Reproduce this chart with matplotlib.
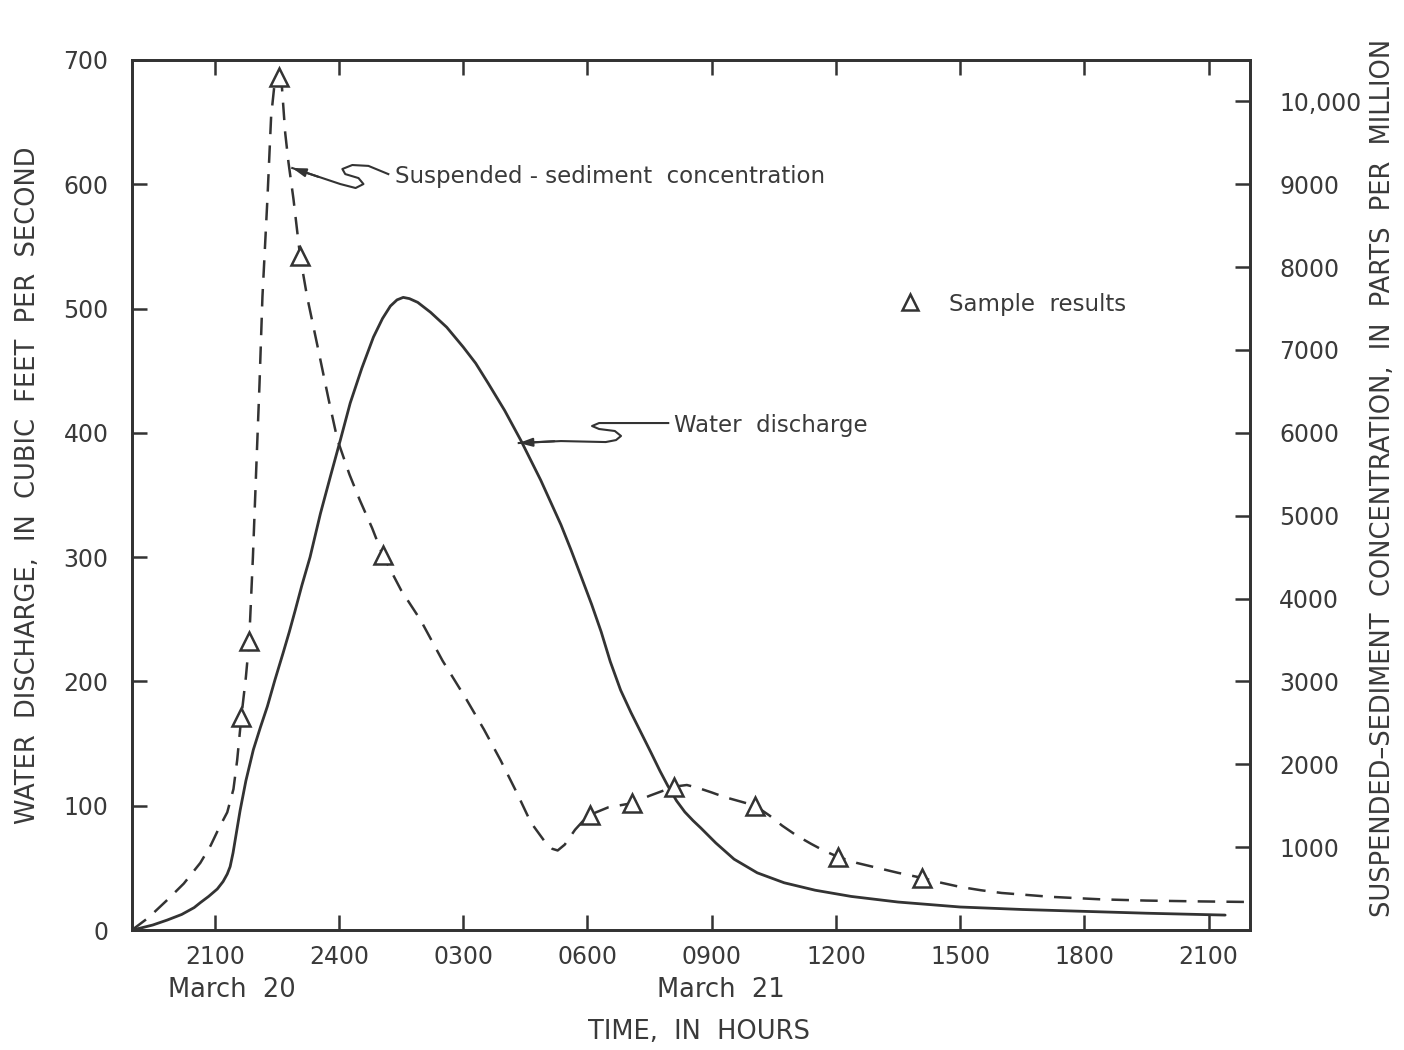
import matplotlib
matplotlib.use("Agg")
import matplotlib.pyplot as plt

# Time axis in hours counted from 0000 on March 20 (so 0300 March 21 = 27)
tick_hours = [21, 24, 27, 30, 33, 36, 39, 42, 45]
tick_labels = ["2100", "2400", "0300", "0600", "0900", "1200", "1500", "1800", "2100"]

# Water discharge hydrograph (cubic feet per second)
q_hours = [19.0, 19.2, 19.5, 19.85, 20.2, 20.5, 20.65, 20.85, 21.06, 21.2, 21.3, 21.37,
           21.44, 21.52, 21.61, 21.75, 21.93, 22.1, 22.27, 22.45, 22.65, 22.8, 22.94,
           23.1, 23.3, 23.55, 23.8, 24.03, 24.27, 24.55, 24.83, 25.05, 25.24, 25.4,
           25.55, 25.7, 25.9, 26.21, 26.6, 27.0, 27.3, 27.6, 28.0, 28.39, 28.87, 29.36,
           29.6, 29.84, 30.1, 30.33, 30.55, 30.8, 31.05, 31.29, 31.53, 31.75, 31.94,
           32.15, 32.35, 32.55, 32.74, 33.1, 33.54, 34.1, 34.75, 35.5, 36.37, 37.5,
           39.0, 40.5, 42.0, 43.5, 45.4]
q_cfs = [0, 1.5, 4, 8, 12.5, 18, 22, 27, 33, 39, 45, 51,
         62, 78, 96, 120, 145, 163, 180, 201, 223, 240, 257,
         277, 300, 335, 366, 394, 424, 452, 477, 492, 502, 507,
         509, 508, 505, 497, 485, 469, 456, 440, 418, 394, 362, 326,
         306, 285, 262, 240, 216, 193, 175, 159, 143, 128, 116,
         104, 95, 88, 82, 70, 57, 46, 38, 32, 27, 22.5,
         18.5, 16.5, 15, 13.5, 12]

# Suspended-sediment concentration curve (parts per million)
c_hours = [19.0, 19.4, 19.85, 20.25, 20.65, 20.9, 21.1, 21.3, 21.45, 21.54, 21.64, 21.75,
           21.83, 21.92, 22.0, 22.08, 22.15, 22.27, 22.36, 22.45, 22.56, 22.62, 22.7,
           22.78, 22.9, 23.06, 23.23, 23.5, 23.75, 23.96, 24.25, 24.5, 24.8, 25.05,
           25.5, 25.97, 26.5, 27.08, 27.5, 27.9, 28.3, 28.63, 28.95, 29.15, 29.28,
           29.45, 29.7, 29.9, 30.06, 30.5, 31.07, 31.5, 32.09, 32.4, 32.67, 33.0,
           33.3, 33.7, 34.05, 34.4, 34.7, 35.05, 35.4, 35.7, 36.06, 36.5, 37.0, 37.5,
           38.07, 38.5, 39.0, 39.5, 40.0, 41.2, 42.4, 43.5, 44.8, 46.0]
c_ppm = [0, 150, 362, 560, 810, 1020, 1230, 1420, 1700, 2050, 2570, 3050,
         3490, 4500, 5560, 6600, 7640, 8820, 9820, 10250, 10300, 10180, 9620,
         9260, 8820, 8130, 7640, 7000, 6400, 5920, 5500, 5190, 4850, 4530,
         4100, 3740, 3250, 2780, 2420, 2050, 1650, 1300, 1080, 980, 960,
         1030, 1210, 1320, 1390, 1480, 1530, 1620, 1730, 1750, 1715, 1660,
         1606, 1550, 1500, 1380, 1260, 1140, 1040, 960, 880, 810, 750, 690,
         630, 575, 520, 480, 447, 400, 370, 355, 345, 338]

# Laboratory sample results (parts per million)
s_hours = [21.64, 21.83, 22.56, 23.06, 25.05, 30.06, 31.07, 32.09, 34.05, 36.06, 38.07]
s_ppm = [2570, 3490, 10300, 8130, 4530, 1390, 1530, 1730, 1500, 880, 630]

INK = "#333333"
TXT = "#3a3a3a"

fig = plt.figure(figsize=(14.04, 10.5), dpi=100)
ax = fig.add_axes([132 / 1404, 120 / 1050, 1118 / 1404, 870 / 1050])
ax2 = ax.twinx()

ax.set_xlim(19, 46)
ax.set_ylim(0, 700)
ax2.set_ylim(0, 10500)

ax.plot(q_hours, q_cfs, color=INK, lw=2.0, solid_capstyle="round",
        solid_joinstyle="round", zorder=3)
ax2.plot(c_hours, c_ppm, color=INK, lw=1.8, dashes=(7, 4.5), zorder=3)
ax2.plot(s_hours, s_ppm, linestyle="none", marker="^", ms=13, mfc="white",
         mec=INK, mew=1.8, zorder=4)

# Axes frame and ticks
for a in (ax, ax2):
    for sp in a.spines.values():
        sp.set_color(INK)
        sp.set_linewidth(2.0)

ax.set_xticks(tick_hours)
ax.set_xticklabels(tick_labels)
ax.set_yticks([0, 100, 200, 300, 400, 500, 600, 700])
ax.tick_params(axis="x", direction="in", length=11, width=1.8, color=INK,
               labelsize=17, labelcolor=TXT, pad=11, top=True)
ax.tick_params(axis="y", direction="in", length=11, width=1.8, color=INK,
               labelsize=17, labelcolor=TXT, pad=17, right=False)

ax2.set_yticks([1000, 2000, 3000, 4000, 5000, 6000, 7000, 8000, 9000, 10000])
ax2.set_yticklabels(["1000", "2000", "3000", "4000", "5000", "6000", "7000",
                     "8000", "9000", "10,000"])
ax2.tick_params(axis="y", direction="in", length=11, width=1.8, color=INK,
                labelsize=17, labelcolor=TXT, pad=21)

# Axis titles
fig.text(28 / 1404, 1 - 485 / 1050, "WATER  DISCHARGE,  IN  CUBIC  FEET  PER  SECOND",
         rotation=90, ha="center", va="center", fontsize=18.5, color=TXT)
fig.text(1383 / 1404, 1 - 478 / 1050,
         "SUSPENDED\u2013SEDIMENT  CONCENTRATION,  IN  PARTS  PER  MILLION",
         rotation=90, ha="center", va="center", fontsize=18.5, color=TXT)
fig.text(699 / 1404, 1 - 1032 / 1050, "TIME,  IN  HOURS", ha="center", va="center",
         fontsize=18.5, color=TXT)
fig.text(232 / 1404, 1 - 990 / 1050, "March  20", ha="center", va="center",
         fontsize=18.5, color=TXT)
fig.text(721 / 1404, 1 - 990 / 1050, "March  21", ha="center", va="center",
         fontsize=18.5, color=TXT)

# Curve labels with squiggle leaders
sed_lead_x = [22.87, 24.03, 24.40, 24.59, 24.47, 24.15, 24.08, 24.32, 24.71, 25.19]
sed_lead_y = [613.1, 600.2, 597.0, 600.2, 605.0, 608.2, 612.3, 615.5, 614.8, 608.2]
ax.plot(sed_lead_x, sed_lead_y, color=INK, lw=1.5, zorder=5,
        solid_joinstyle="round")
ax.annotate("", xy=(sed_lead_x[0], sed_lead_y[0]), xytext=(23.5, 606.0),
            arrowprops=dict(arrowstyle="-|>,head_length=0.8,head_width=0.25",
                            color=INK, lw=1.5, shrinkA=0, shrinkB=0), zorder=5)
ax.text(25.36, 606.6, "Suspended - sediment  concentration", ha="left", va="center",
        fontsize=16.5, color=TXT)

wat_lead_x = [28.34, 29.36, 30.44, 30.69, 30.81, 30.66, 30.28, 30.11, 30.28, 31.95]
wat_lead_y = [391.8, 393.4, 392.6, 394.2, 397.5, 401.5, 403.1, 405.5, 407.9, 407.9]
ax.plot(wat_lead_x, wat_lead_y, color=INK, lw=1.5, zorder=5,
        solid_joinstyle="round")
ax.annotate("", xy=(wat_lead_x[0], wat_lead_y[0]), xytext=(29.2, 393.3),
            arrowprops=dict(arrowstyle="-|>,head_length=0.8,head_width=0.25",
                            color=INK, lw=1.5, shrinkA=0, shrinkB=0), zorder=5)
ax.text(32.09, 406.3, "Water  discharge", ha="left", va="center",
        fontsize=16.5, color=TXT)

# Symbol key
ax.plot([37.80], [505.3], linestyle="none", marker="^", ms=12, mfc="white",
        mec=INK, mew=1.8)
ax.text(38.74, 503.6, "Sample  results", ha="left", va="center",
        fontsize=16.5, color=TXT)

fig.savefig("out.png", dpi=100, facecolor="white")
